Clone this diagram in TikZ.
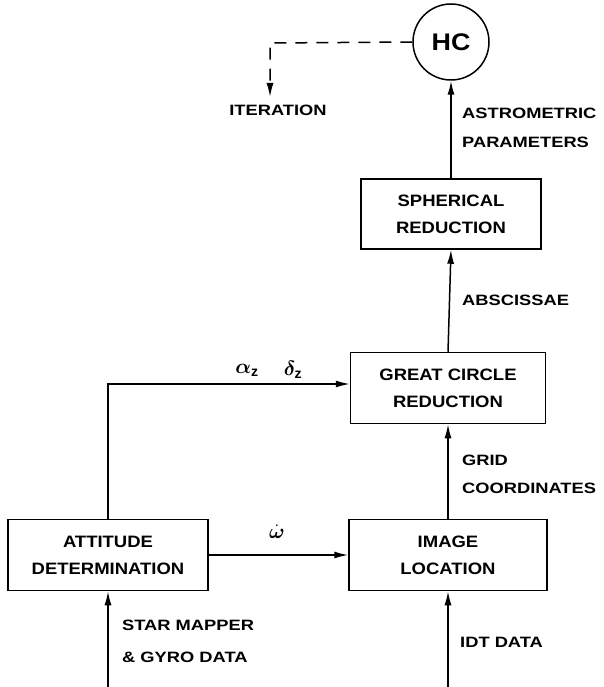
\documentclass[tikz,border=0pt]{standalone}
\usepackage{fontspec}
\usepackage{bm}
\setmainfont{Liberation Sans}
\newfontfamily\lblfont[FakeStretch=1.22]{Liberation Sans}
\newfontfamily\boxfont[FakeStretch=1.12]{Liberation Sans}
\usetikzlibrary{arrows.meta}
\begin{document}
\begin{tikzpicture}[x=1pt,y=-1pt,
  box/.style={draw, line width=1.5pt, minimum width=198pt, minimum height=71pt, align=center, font=\boxfont\fontsize{16.5}{27}\selectfont\bfseries, inner sep=0pt},
  lbl/.style={font=\lblfont\fontsize{15}{16}\selectfont\bfseries, inner sep=0pt},
  conn/.style={line width=1.5pt, -{Latex[length=14pt,width=7pt]}},
  mth/.style={font=\fontsize{20}{20}\selectfont, inner sep=1pt},
]
\useasboundingbox (0,0) rectangle (604,687);
% nodes
\node[draw, circle, line width=1.5pt, minimum size=76pt, inner sep=0pt, font=\boxfont\fontsize{24}{24}\selectfont\bfseries] (hc) at (451,42) {HC};
\node[box, minimum width=180pt, minimum height=70pt] (sph) at (451,214) {SPHERICAL\\REDUCTION};
\node[box, minimum width=195pt] (gcr) at (448,388) {GREAT CIRCLE\\REDUCTION};
\node[box] (img) at (448,555) {IMAGE\\LOCATION};
\node[box, minimum width=200pt] (att) at (108,555) {ATTITUDE\\DETERMINATION};
% coordinates
\coordinate (itc) at (270,43);
\coordinate (ite) at (270,97);
\coordinate (attc) at (att.north |- 0,384);
\coordinate (attin) at (att.south |- 0,687);
\coordinate (imgin) at (img.south |- 0,687);
% labels
\node[lbl] (iter) at (278,110) {ITERATION};
\node[lbl, anchor=west] (astro) at (462,113) {ASTROMETRIC};
\node[lbl, anchor=west] (param) at (462,142) {PARAMETERS};
\node[lbl, anchor=west] (absc) at (462,300) {ABSCISSAE};
\node[lbl, anchor=west] (grid) at (462,460) {GRID};
\node[lbl, anchor=west] (coord) at (462,488) {COORDINATES};
\node[lbl, anchor=west] (star) at (122,625) {STAR MAPPER};
\node[lbl, anchor=west] (gyro) at (122,657) {\& GYRO DATA};
\node[lbl, anchor=west] (idt) at (460,642) {IDT DATA};
\node[mth] (az) at (247,370) {$\bm{\alpha}_{\mathbf{z}}$};
\node[mth] (dz) at (293,370) {$\bm{\delta}_{\mathbf{z}}$};
\node[mth] (om) at (277,532) {$\dot{\bm{\omega}}$};
% connectors
\draw[conn, dash pattern=on 12pt off 9pt] (hc.west) -- (itc) -- (ite);
\draw[conn] (sph.north) -- (hc.south);
\draw[conn] (gcr.north) -- (sph.south);
\draw[conn] (img.north) -- (gcr.south);
\draw[conn] (att.north) -- (attc) -- (gcr.west |- attc);
\draw[conn] (att.east) -- (img.west);
\draw[conn] (attin) -- (att.south);
\draw[conn] (imgin) -- (img.south);
\end{tikzpicture}
\end{document}
